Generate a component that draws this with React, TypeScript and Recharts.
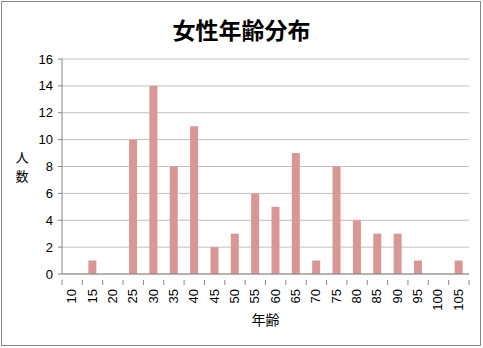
import { BarChart, Bar, XAxis, YAxis, CartesianGrid, Label } from "recharts";

const ages = ["10", "15", "20", "25", "30", "35", "40", "45", "50", "55", "60", "65", "70", "75", "80", "85", "90", "95", "100", "105"];
const counts = [0, 1, 0, 10, 14, 8, 11, 2, 3, 6, 5, 9, 1, 8, 4, 3, 3, 1, 0, 1];
const yTicks = [0, 2, 4, 6, 8, 10, 12, 14, 16];

const data = ages.map((age, i) => ({ age, count: counts[i] }));

const FONT = "'Liberation Sans', Arial, sans-serif";
const CJK = "'Noto Sans CJK JP', 'Noto Sans', sans-serif";
const AXIS = "#868686";

function AgeTick(props: any) {
  const { x, y, index, payload } = props;
  const half = 407 / ages.length / 2;
  return (
    <g>
      <line x1={x - half} x2={x - half} y1={y - 8} y2={y - 3} stroke={AXIS} />
      {index === ages.length - 1 && (
        <line x1={x + half} x2={x + half} y1={y - 8} y2={y - 3} stroke={AXIS} />
      )}
      <text
        transform={`translate(${x + 4},${y + 1}) rotate(-90)`}
        textAnchor="end"
        fontSize={13}
        fontFamily={FONT}
        fill="#000"
      >
        {payload.value}
      </text>
    </g>
  );
}

export default function App() {
  return (
    <div style={{ position: "relative", width: 483, height: 348 }}>
      <style>{"body{margin:0}"}</style>
      <div
        style={{
          position: "absolute",
          left: 1,
          top: 1,
          width: 478,
          height: 343,
          border: "1px solid #878787",
          pointerEvents: "none",
        }}
      />
      <div
        style={{
          position: "absolute",
          top: 12,
          width: 483,
          textAlign: "center",
          fontFamily: CJK,
          fontWeight: "bold",
          fontSize: 23,
          color: "#000",
        }}
      >
        女性年齢分布
      </div>
      <BarChart
        width={483}
        height={348}
        data={data}
        margin={{ top: 59, right: 14, bottom: 0, left: 0 }}
      >
        <CartesianGrid vertical={false} stroke="#c0c0c0" />
        <XAxis
          dataKey="age"
          interval={0}
          tickLine={false}
          stroke={AXIS}
          height={74}
          tick={<AgeTick />}
          tickMargin={8}
        >
          <Label
            value="年齢"
            position="insideBottom"
            offset={23}
            fontSize={14}
            fontFamily={CJK}
            fill="#000"
          />
        </XAxis>
        <YAxis
          width={62}
          domain={[0, 16]}
          ticks={yTicks}
          stroke={AXIS}
          tickSize={4}
          tickMargin={5}
          tick={{ fontSize: 13, fontFamily: FONT, fill: "#000" }}
        >
          <Label
            content={() => (
              <g fontSize={13} fontFamily={CJK} fill="#000">
                <text x={22} y={162} textAnchor="middle">人</text>
                <text x={22} y={181} textAnchor="middle">数</text>
              </g>
            )}
          />
        </YAxis>
        <Bar dataKey="count" fill="#d99694" barSize={8} isAnimationActive={false} />
      </BarChart>
    </div>
  );
}
